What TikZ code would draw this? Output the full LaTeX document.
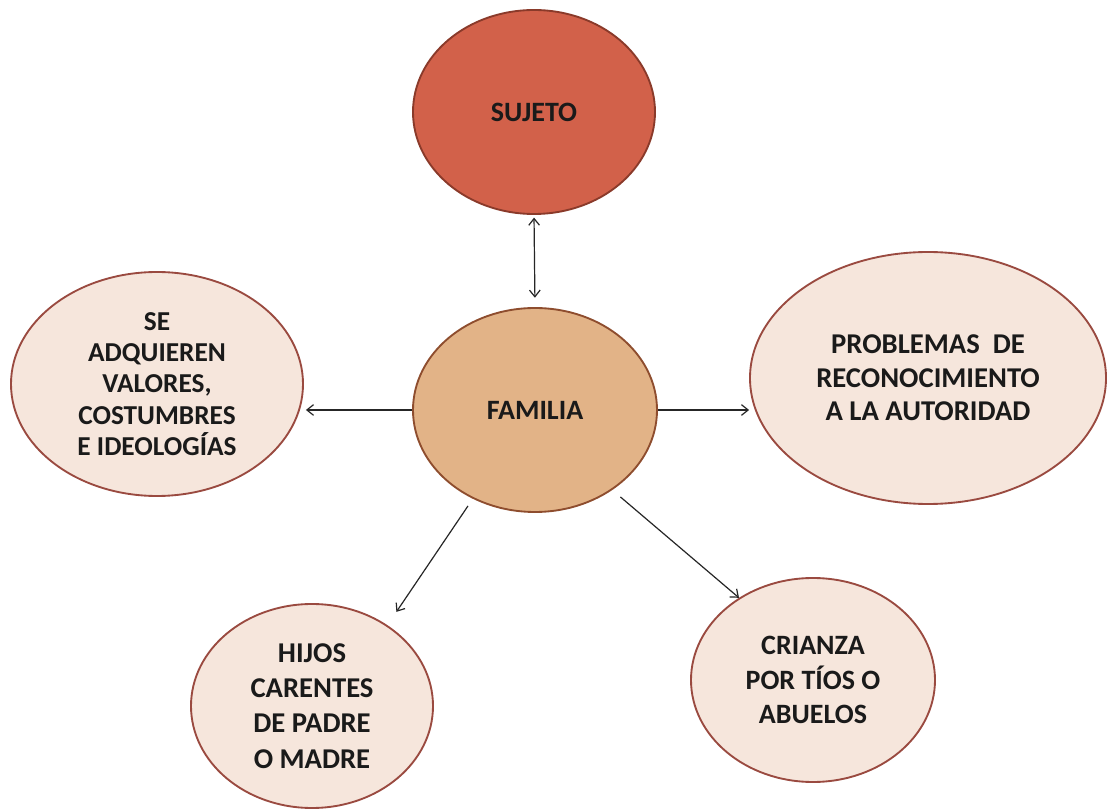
\documentclass[tikz,border=0pt]{standalone}
\usepackage{fontspec}
\setmainfont{Carlito}
\usetikzlibrary{arrows.meta,shapes.geometric}
\definecolor{sujfill}{HTML}{D2614A}
\definecolor{sujedge}{HTML}{8A3A2A}
\definecolor{famfill}{HTML}{E2B387}
\definecolor{famedge}{HTML}{8E4D2E}
\definecolor{lightfill}{HTML}{F6E6DC}
\definecolor{lightedge}{HTML}{9A4A40}
\definecolor{txt}{HTML}{1A1A1A}
\begin{document}
\begin{tikzpicture}[x=0.75pt,y=-0.75pt,
  bub/.style={ellipse, draw=lightedge, fill=lightfill, line width=1.4pt, inner sep=0pt,
    align=center, text=txt, font=\bfseries\fontsize{21}{25}\selectfont},
  arr/.style={-{Straight Barb[length=5pt,width=8pt]}, line width=0.9pt, draw=black!85},
  arrboth/.style={{Straight Barb[length=5pt,width=8pt]}-{Straight Barb[length=5pt,width=8pt]}, line width=0.9pt, draw=black!85}]
\useasboundingbox (0,0) rectangle (1107,812);
\fill[white] (0,0) rectangle (1107,812);

\node[bub, fill=sujfill, draw=sujedge, minimum width=181.5pt, minimum height=153pt] (suj) at (534,112) {SUJETO};
\node[bub, fill=famfill, draw=famedge, minimum width=183pt, minimum height=153pt] (fam) at (535,410) {FAMILIA};
\node[bub, minimum width=219pt, minimum height=168pt, font=\bfseries\fontsize{20.5}{23.5}\selectfont] (adq) at (157,384)
  {SE\\ADQUIEREN\\VALORES,\\COSTUMBRES\\E IDEOLOGÍAS};
\node[bub, minimum width=267pt, minimum height=189pt, font=\bfseries\fontsize{21.5}{25}\selectfont] (prob) at (928,378)
  {PROBLEMAS~~DE\\RECONOCIMIENTO\\A LA AUTORIDAD};
\node[bub, minimum width=181.5pt, minimum height=153pt, font=\bfseries\fontsize{21.5}{26.5}\selectfont] (hijos) at (312,706)
  {HIJOS\\CARENTES\\DE PADRE\\O MADRE};
\node[bub, minimum width=183pt, minimum height=153pt, font=\bfseries\fontsize{21}{26}\selectfont] (cri) at (813,680)
  {CRIANZA\\POR TÍOS O\\ABUELOS};

\draw[arrboth, shorten <=2pt, shorten >=7pt] (suj.south) -- (fam.north);
\draw[arr, shorten >=1.5pt] (fam.west) -- (fam.west -| adq.east);
\draw[arr] (fam.east) -- (fam.east -| prob.west);
\draw[arr, shorten <=6.5pt, shorten >=12pt] (fam.235) -- (hijos.47.6);
\draw[arr, shorten <=8pt] (fam.314.3) -- (cri.132);
\end{tikzpicture}
\end{document}
